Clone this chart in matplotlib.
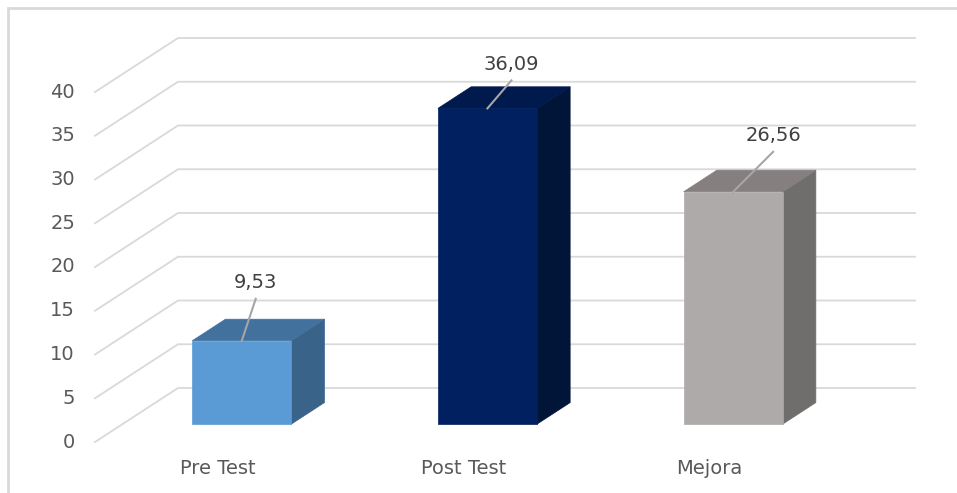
import matplotlib
matplotlib.use("Agg")
import matplotlib.pyplot as plt
from matplotlib.patches import Polygon, Rectangle

# ---- data ----
categories = ["Pre Test", "Post Test", "Mejora"]
values = [9.53, 36.09, 26.56]
value_labels = ["9,53", "36,09", "26,56"]
yticks = [0, 5, 10, 15, 20, 25, 30, 35, 40]

# ---- style ----
front_colors = ["#5B9BD5", "#002060", "#AEAAAA"]
top_colors = ["#41719C", "#001A4E", "#857F7F"]
side_colors = ["#3A6389", "#001538", "#706D6D"]
text_color = "#595959"
label_color = "#404040"
grid_color = "#D9D9D9"
font = ["DejaVu Sans"]
fs = 14

W, H = 957, 493
fig = plt.figure(figsize=(W / 100, H / 100), dpi=100)
ax = fig.add_axes([0, 0, 1, 1])

# pixel mapping parameters
px_per_cat = 245.7
px_per_val = 8.75
x_left_px = 95.0
y0_px = 442.0
left_cat = -0.5
ax.set_xlim(left_cat - x_left_px / px_per_cat, left_cat + (W - x_left_px) / px_per_cat)
ax.set_ylim((y0_px - H) / px_per_val, y0_px / px_per_val)
ax.axis("off")

DX = 83 / px_per_cat   # depth offset in x (category units)
DY = 54 / px_per_val   # depth offset in y (value units)
right_cat = left_cat + len(categories)


def proj(x, y, d):
    return (x + d * DX, y + d * DY)


# gridlines: side wall diagonal + back wall horizontal
for v in yticks:
    p0 = proj(left_cat, v, 0)
    p1 = proj(left_cat, v, 1)
    p2 = proj(right_cat, v, 1)
    ax.plot([p0[0], p1[0], p2[0]], [p0[1], p1[1], p2[1]], color=grid_color,
            lw=1.3, solid_joinstyle="miter", zorder=1)
    ax.text(left_cat - 20 / px_per_cat, v, str(v), ha="right", va="center",
            fontsize=fs, color=text_color, family=font)

# bars
bw = 0.403
d0, d1 = 0.33, 0.73
bar_shift = -3.5 / px_per_cat
for i, (v, fc, tc, sc) in enumerate(zip(values, front_colors, top_colors, side_colors)):
    xc = i + bar_shift
    xl, xr = xc - bw / 2, xc + bw / 2
    front = [proj(xl, 0, d0), proj(xr, 0, d0), proj(xr, v, d0), proj(xl, v, d0)]
    top = [proj(xl, v, d0), proj(xr, v, d0), proj(xr, v, d1), proj(xl, v, d1)]
    side = [proj(xr, 0, d0), proj(xr, 0, d1), proj(xr, v, d1), proj(xr, v, d0)]
    for poly, c in ((side, sc), (top, tc), (front, fc)):
        ax.add_patch(Polygon(poly, closed=True, facecolor=c, edgecolor=c, lw=0.5, zorder=3))

    # category label
    ax.text(i, -26 / px_per_val, categories[i], ha="center", va="center",
            fontsize=fs, color=text_color, family=font)

# data labels with leader lines (offsets in pixels)
leader_px = [(14, 42), (24, 28), (40, 40)]
for i, v in enumerate(values):
    sx, sy = proj(i + bar_shift, v, d0)
    ex = sx + leader_px[i][0] / px_per_cat
    ey = sy + leader_px[i][1] / px_per_val
    ax.plot([sx, ex], [sy, ey], color="#A6A6A6", lw=1.5, zorder=4)
    ax.text(ex, ey + 16 / px_per_val, value_labels[i], ha="center", va="center",
            fontsize=fs, color=label_color, family=font, zorder=5)

# outer border (only left/top visible in the reference)
fig.patches.append(Rectangle((8 / W, -0.05), 1.1, (H - 8) / H + 0.05,
                             transform=fig.transFigure, fill=False,
                             edgecolor="#D9D9D9", lw=2, zorder=0))

fig.savefig("out.png", dpi=100, facecolor="white")
